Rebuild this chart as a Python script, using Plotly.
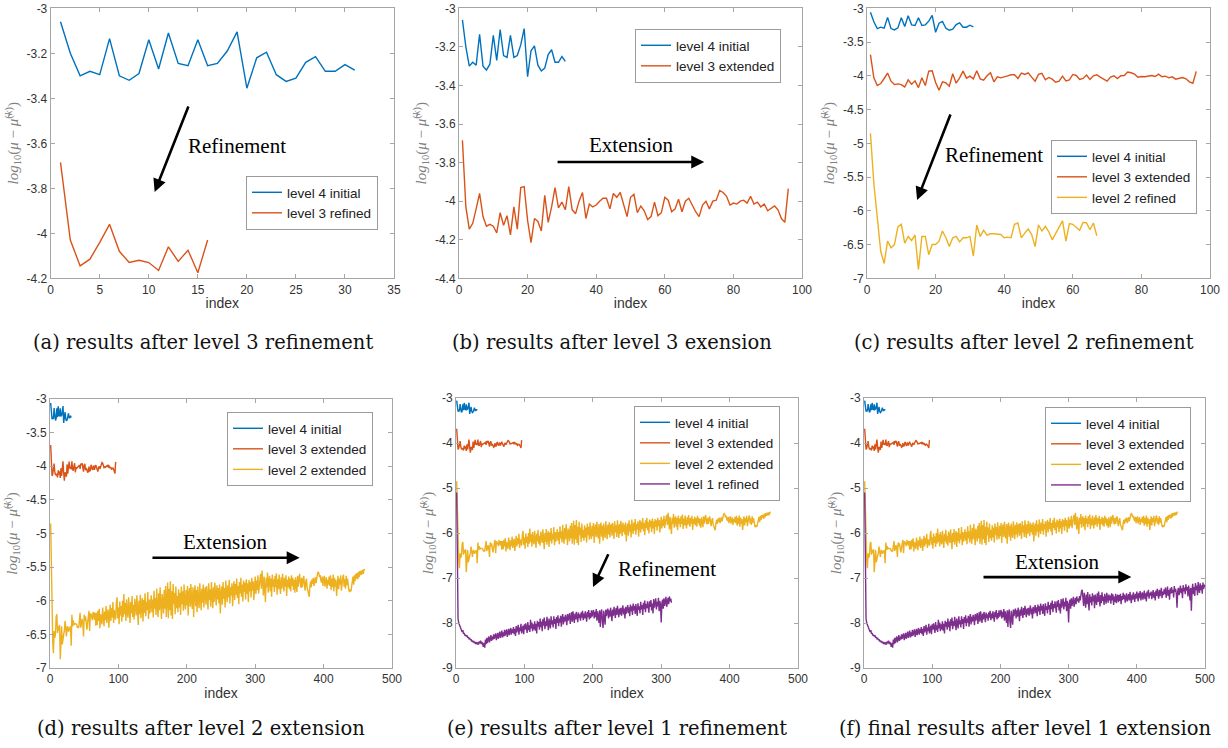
import plotly.graph_objects as go

# ---------------- data ----------------
level4_initial = [-3.06, -3.20, -3.30, -3.28, -3.295, -3.135, -3.30, -3.32, -3.29, -3.14,
                  -3.27, -3.11, -3.245, -3.255, -3.14, -3.255, -3.245, -3.19, -3.105, -3.355,
                  -3.22, -3.195, -3.295, -3.325, -3.31, -3.24, -3.215, -3.28, -3.28, -3.25, -3.275]

level3 = [-3.685, -4.03, -4.145, -4.115, -4.04, -3.96, -4.08, -4.13, -4.12, -4.13,
          -4.165, -4.06, -4.125, -4.075, -4.175, -4.03,
          -4.145, -3.93, -3.925, -4.10, -4.215, -4.09, -4.105, -4.155, -3.97, -4.11,
          -4.03, -3.93, -4.035, -4.005, -4.045, -3.925, -4.045, -4.065, -4.00, -3.955,
          -4.09, -4.015, -4.03, -4.02, -4.00, -3.985, -3.985, -4.04, -3.96, -3.98,
          -3.955, -4.02, -4.08, -3.98, -3.965, -4.06, -4.025, -4.05, -4.095, -4.08,
          -4.005, -4.075, -4.06, -3.98, -3.995, -4.055, -4.04, -3.99, -4.055, -4.0,
          -3.985, -4.02, -4.055, -4.08, -4.02, -4.0, -4.04, -4.00, -3.995, -3.945,
          -3.955, -3.975, -4.02, -4.01, -4.015, -4.00, -3.995, -4.01, -3.975, -4.015,
          -4.005, -4.03, -4.015, -4.05, -4.035, -4.025, -4.045, -4.09, -4.11, -3.935]

level2 = [-4.85, -5.6, -6.1, -6.6, -6.78, -6.45, -6.55, -6.5, -6.24, -6.2,
          -6.48, -6.38, -6.44, -6.36, -6.87, -6.38, -6.38, -6.65, -6.5, -6.5,
          -6.45, -6.3, -6.4, -6.53, -6.4, -6.38, -6.46, -6.4, -6.4, -6.38,
          -6.67, -6.21, -6.38, -6.29, -6.36, -6.34, -6.34, -6.34, -6.35, -6.4,
          -6.39, -6.4, -6.2, -6.18, -6.4, -6.33, -6.27, -6.35, -6.53, -6.21,
          -6.3, -6.23, -6.31, -6.43, -6.33, -6.25, -6.15, -6.45, -6.19, -6.2,
          -6.24, -6.29, -6.17, -6.18, -6.28, -6.18, -6.37,
          -6.18, -6.36, -6.15, -6.30, -6.12, -6.41, -6.20, -6.27, -6.35, -6.10, -6.24, -6.38, -6.16, -6.29, -6.08, -6.33, -6.19, -6.13, -6.40, -6.21,
          -6.06, -6.30, -6.11, -6.25, -6.02, -6.33, -6.14, -6.21, -6.28, -6.04, -5.95, -6.26, -6.10, -6.35, -6.01, -6.22, -6.08, -6.31, -6.00, -6.24,
          -5.90, -6.20, -6.03, -6.30, -5.98, -6.17, -6.25, -5.95, -6.12, -6.33, -6.02, -6.19, -5.93, -6.24, -6.06, -6.28, -5.97, -6.15, -6.22, -5.92,
          -6.15, -6.36, -6.00, -6.20, -5.91, -6.26, -6.05, -5.96, -6.31, -5.99, -6.18, -5.89, -6.23, -6.02, -6.14, -5.87, -6.27, -5.98, -6.19, -6.01,
          -5.92, -6.17, -5.98, -6.25, -5.85, -6.12, -5.96, -6.21, -5.82, -6.09, -6.24, -5.89, -6.14, -5.80, -6.08, -6.27, -5.90, -5.99, -6.19, -5.84,
          -6.12, -5.78, -6.24, -5.90, -5.73, -6.26, -5.82, -6.14, -5.71, -6.22, -5.86, -6.27, -5.75, -6.05, -5.88, -6.20, -5.79, -6.11, -5.93, -6.17,
          -5.83, -6.10, -5.88, -6.21, -5.79, -6.05, -5.86, -6.15, -5.76, -6.02, -6.13, -5.84, -6.07, -5.78, -6.22, -5.90, -5.81, -6.09, -5.75, -6.01,
          -6.12, -5.80, -6.24, -5.88, -5.77, -6.08, -5.84, -6.17, -5.79, -6.00, -6.11, -5.74, -5.92, -6.14, -5.82, -6.03, -5.76, -6.10, -5.87, -5.80,
          -6.06, -5.78, -5.95, -6.13, -5.74, -5.99, -5.83, -6.09, -5.72, -5.94, -6.11, -5.80, -6.02, -5.73, -5.90, -6.07, -5.77, -5.98, -5.81, -6.04,
          -5.76, -6.19, -5.90, -5.79, -6.06, -5.72, -5.97, -5.81, -6.10, -5.70, -5.88, -6.02, -5.77, -5.95, -5.69, -6.04, -5.80, -5.92, -5.74, -6.08,
          -5.82, -5.71, -5.99, -5.75, -5.91, -5.67, -5.96, -5.78, -6.05, -5.72, -5.89, -5.66, -5.94, -5.76, -6.01, -5.70, -5.87, -5.73, -5.98, -5.68,
          -5.90, -5.74, -6.02, -5.69, -5.86, -5.72, -5.95, -5.66, -5.85, -5.71, -5.99, -5.74, -5.64, -5.90, -5.70, -5.84, -5.62, -5.89, -5.72, -5.67,
          -5.60, -5.82, -5.55, -5.71, -5.92, -5.64, -5.85, -6.02, -5.66, -5.80, -5.58, -5.88, -5.70, -5.63, -5.86, -5.67, -5.94, -5.61, -5.79, -5.68,
          -5.87, -5.63, -5.80, -5.59, -5.91, -5.68, -5.83, -5.61, -5.78, -5.90, -5.65, -5.82, -5.60, -5.74, -5.86, -5.66, -5.79, -5.62, -5.93, -5.69,
          -5.80, -5.64, -5.83, -5.67, -5.86, -5.62, -5.78, -5.66, -5.84, -5.69, -5.88, -5.65, -5.76, -5.87, -5.63, -5.79, -5.68, -5.60, -5.74, -5.81,
          -5.66, -5.80, -5.70, -5.63, -5.76, -5.85, -5.72, -5.67, -5.81, -5.87, -5.90, -5.94, -5.78, -5.71, -5.80, -5.68, -5.75, -5.66, -5.78, -5.69,
          -5.65, -5.74, -5.61, -5.60, -5.57, -5.59, -5.65, -5.62, -5.70, -5.73, -5.64, -5.78, -5.68, -5.63, -5.79, -5.70, -5.65, -5.82, -5.69, -5.76,
          -5.64, -5.78, -5.62, -5.84, -5.67, -5.80, -5.61, -5.86, -5.66, -5.79, -5.69, -5.93, -5.72, -5.63, -5.83, -5.67, -5.76, -5.62, -5.85, -5.70,
          -5.66, -5.61, -5.79, -5.68, -5.82, -5.63, -5.77, -5.67, -5.80, -5.85, -5.87, -5.83, -5.86, -5.80, -5.70, -5.64, -5.76, -5.62, -5.71, -5.60,
          -5.67, -5.59, -5.68, -5.57, -5.65, -5.56, -5.62, -5.55, -5.61, -5.54, -5.60, -5.53, -5.55]

level1 = [-5.10, -7.70, -7.90, -8.00, -8.05, -8.10, -8.14, -8.18, -8.20, -8.16, -8.24, -8.22, -8.28, -8.26, -8.30, -8.27, -8.33, -8.31, -8.35, -8.34,
          -8.38, -8.36, -8.41, -8.39, -8.43, -8.40, -8.45, -8.42, -8.47, -8.44, -8.46, -8.43, -8.48, -8.41, -8.45, -8.39, -8.47, -8.42, -8.50, -8.53,
          -8.44, -8.55, -8.37, -8.47, -8.33, -8.45, -8.36, -8.30, -8.43, -8.32, -8.27, -8.40, -8.30, -8.37, -8.25, -8.35, -8.29, -8.23, -8.38, -8.28,
          -8.22, -8.35, -8.25, -8.19, -8.33, -8.24, -8.17, -8.32, -8.21, -8.30, -8.15, -8.28, -8.20, -8.14, -8.31, -8.19, -8.13, -8.27, -8.18, -8.11,
          -8.26, -8.14, -8.22, -8.09, -8.25, -8.13, -8.29, -8.07, -8.21, -8.12, -8.04, -8.26, -8.10, -8.18, -8.02, -8.23, -8.11, -8.06, -8.25, -8.03,
          -8.15, -8.01, -8.11, -8.22, -7.98, -8.16, -8.05, -8.20, -7.93, -8.12, -7.99, -8.18, -8.03, -8.14, -7.96, -8.17, -8.02, -8.23, -7.95, -8.08,
          -7.98, -8.15, -7.90, -8.09, -7.97, -8.18, -7.92, -8.06, -7.88, -8.14, -7.96, -8.07, -7.86, -8.03, -8.16, -7.90, -8.00, -8.12, -7.85, -8.03,
          -7.94, -8.10, -7.85, -8.02, -7.91, -8.13, -7.87, -8.00, -7.83, -8.07, -7.90, -7.99, -7.84, -8.08, -7.89, -7.80, -8.03, -7.86, -7.97, -7.82,
          -7.90, -8.05, -7.80, -7.95, -7.86, -7.78, -8.02, -7.84, -7.76, -7.97, -7.74, -7.88, -8.00, -7.79, -7.92, -7.75, -7.86, -7.98, -7.77, -7.89,
          -7.81, -7.95, -7.76, -7.88, -7.73, -7.94, -7.79, -7.90, -7.74, -7.85, -7.97, -7.75, -7.87, -7.71, -7.92, -7.78, -7.89, -7.72, -7.86, -7.77,
          -7.71, -7.90, -7.75, -7.87, -7.69, -7.95, -7.74, -7.86, -8.00, -7.72, -8.09, -7.78, -7.70, -7.98, -8.11, -7.73, -7.88, -8.04, -7.70, -7.85,
          -7.74, -7.68, -7.90, -7.72, -7.86, -7.66, -7.80, -7.96, -7.70, -7.84, -7.64, -7.79, -7.89, -7.67, -7.82, -7.62, -7.76, -7.87, -7.68, -7.81,
          -7.66, -7.84, -7.70, -7.61, -7.81, -7.68, -7.90, -7.64, -7.79, -7.67, -7.60, -7.78, -7.65, -7.85, -7.59, -7.74, -7.63, -7.82, -7.57, -7.72,
          -7.62, -7.80, -7.58, -7.73, -7.84, -7.56, -7.71, -7.63, -7.79, -7.53, -7.70, -7.60, -7.82, -7.55, -7.69, -7.50, -7.76, -7.58, -7.67, -7.52,
          -7.66, -7.77, -7.52, -7.64, -7.49, -7.72, -7.57, -7.79, -7.47, -7.66, -7.56, -7.45, -7.70, -7.53, -7.63, -7.44, -7.74, -7.51, -7.60, -7.99,
          -7.56, -7.48, -7.68, -7.45, -7.62, -7.53, -7.42, -7.64, -7.49, -7.44, -7.58, -7.41, -7.52, -7.46, -7.55, -7.40, -7.50, -7.36, -7.29, -7.26,
          -7.42, -7.62, -7.33, -7.54, -7.66, -7.37, -7.58, -7.31, -7.50, -7.72, -7.36, -7.55, -7.42, -7.61, -7.34, -7.52, -7.39, -7.67, -7.37, -7.49,
          -7.60, -7.34, -7.53, -7.30, -7.48, -7.63, -7.38, -7.56, -7.32, -7.51, -7.41, -7.60, -7.35, -7.47, -7.57, -7.33, -7.46, -7.55, -7.37, -7.50,
          -7.39, -7.57, -7.34, -7.50, -7.36, -7.60, -7.41, -7.53, -7.35, -7.56, -7.44, -7.37, -7.54, -7.38, -7.51, -7.35, -7.58, -7.40, -7.49, -7.33,
          -7.47, -7.37, -7.55, -7.40, -7.34, -7.52, -7.43, -7.36, -7.50, -7.31, -7.45, -7.56, -7.37, -7.48, -7.32, -7.44, -7.53, -7.35, -7.46, -7.30,
          -7.42, -7.52, -7.33, -7.45, -7.29, -7.50, -7.38, -7.32, -7.48, -7.35, -7.28, -7.47, -7.34, -7.52, -7.30, -7.41, -7.26, -7.46, -7.33, -7.39,
          -7.30, -7.47, -7.35, -7.27, -7.44, -7.32, -7.50, -7.28, -7.40, -7.24, -7.36, -7.46, -7.26, -7.41, -7.31, -7.22, -7.45, -7.30, -7.38, -7.25,
          -7.36, -7.21, -7.44, -7.30, -7.19, -7.40, -7.27, -7.48, -7.23, -7.35, -7.20, -7.33, -7.26, -7.43, -7.18, -7.31, -7.24, -7.37, -7.66, -7.29,
          -7.22, -7.38, -7.26, -7.17, -7.34, -7.23, -7.45, -7.16, -7.30, -7.21, -7.36, -7.14, -7.28, -7.20, -7.41, -7.17, -7.29, -7.50, -7.22, -7.73,
          -7.26, -7.13, -7.36, -7.20, -7.40, -7.11, -7.27, -7.17, -7.38, -7.09, -7.24, -7.33, -7.12, -7.27, -7.16, -7.35, -7.10, -7.24, -7.15, -7.20]

level3_refined_count = 16
level2_refined_count = 67
level1_refined_count = 315

captions = ["(a) results after level 3 refinement", "(b) results after level 3 exension",
            "(c) results after level 2 refinement", "(d) results after level 2 extension",
            "(e) results after level 1 refinement", "(f) final results after level 1 extension"]

xticks_a = [0, 5, 10, 15, 20, 25, 30, 35]
xticks_b = [0, 20, 40, 60, 80, 100]
xticks_d = [0, 100, 200, 300, 400, 500]
yticks_a = [-4.2, -4.0, -3.8, -3.6, -3.4, -3.2, -3.0]
yticks_a_text = ["-4.2", "-4", "-3.8", "-3.6", "-3.4", "-3.2", "-3"]
yticks_b = [-4.4, -4.2, -4.0, -3.8, -3.6, -3.4, -3.2, -3.0]
yticks_b_text = ["-4.4", "-4.2", "-4", "-3.8", "-3.6", "-3.4", "-3.2", "-3"]
yticks_c = [-7, -6.5, -6, -5.5, -5, -4.5, -4, -3.5, -3]
yticks_c_text = ["-7", "-6.5", "-6", "-5.5", "-5", "-4.5", "-4", "-3.5", "-3"]
yticks_e = [-9, -8, -7, -6, -5, -4, -3]
yticks_e_text = ["-9", "-8", "-7", "-6", "-5", "-4", "-3"]

# ---------------- styles ----------------
BLUE, ORANGE, YELLOW, PURPLE = "#0072BD", "#D95319", "#EDB120", "#7E2F8E"
LW = 1.4
AXCOL = "#a6a6a6"
TICKFONT = dict(family="Liberation Sans, Arial", size=12, color="#333333")
YTITLE = "<i>log</i><sub>10</sub>(<i>μ</i> − <i>μ̃</i><sup>(<i>k</i>)</sup>)"

W, H = 1228, 748
def px_x(a, b):
    return [a / W, b / W]
def px_y(top, bottom):
    return [1 - bottom / H, 1 - top / H]

panels = [
    dict(dx=px_x(50.7, 394), dy=px_y(8.3, 278.3), xr=[0, 35], xt=xticks_a, yr=[-4.2, -3], yt=yticks_a, ytt=yticks_a_text),
    dict(dx=px_x(459, 802), dy=px_y(8.3, 278.3), xr=[0, 100], xt=xticks_b, yr=[-4.4, -3], yt=yticks_b, ytt=yticks_b_text),
    dict(dx=px_x(867, 1210), dy=px_y(8.3, 278.3), xr=[0, 100], xt=xticks_b, yr=[-7, -3], yt=yticks_c, ytt=yticks_c_text),
    dict(dx=px_x(50, 392), dy=px_y(399, 668), xr=[0, 500], xt=xticks_d, yr=[-7, -3], yt=yticks_c, ytt=yticks_c_text),
    dict(dx=px_x(456, 798), dy=px_y(398, 668), xr=[0, 500], xt=xticks_d, yr=[-9, -3], yt=yticks_e, ytt=yticks_e_text),
    dict(dx=px_x(864, 1205), dy=px_y(398, 668), xr=[0, 500], xt=xticks_d, yr=[-9, -3], yt=yticks_e, ytt=yticks_e_text),
]

fig = go.Figure()

def idx(arr):
    return list(range(1, len(arr) + 1))

def add(panel, y, name, color):
    n = panel + 1
    sfx = "" if n == 1 else str(n)
    fig.add_trace(go.Scatter(x=idx(y), y=y, mode="lines", name=name,
                             line=dict(color=color, width=LW),
                             xaxis="x" + sfx, yaxis="y" + sfx,
                             legend="legend" + sfx, showlegend=True))

l3r = level3[:level3_refined_count]
l2r = level2[:level2_refined_count]
l1r = level1[:level1_refined_count]

add(0, level4_initial, "level 4 initial", BLUE)
add(0, l3r, "level 3 refined", ORANGE)
add(1, level4_initial, "level 4 initial", BLUE)
add(1, level3, "level 3 extended", ORANGE)
add(2, level4_initial, "level 4 initial", BLUE)
add(2, level3, "level 3 extended", ORANGE)
add(2, l2r, "level 2 refined", YELLOW)
add(3, level4_initial, "level 4 initial", BLUE)
add(3, level3, "level 3 extended", ORANGE)
add(3, level2, "level 2 extended", YELLOW)
add(4, level4_initial, "level 4 initial", BLUE)
add(4, level3, "level 3 extended", ORANGE)
add(4, level2, "level 2 extended", YELLOW)
add(4, l1r, "level 1 refined", PURPLE)
add(5, level4_initial, "level 4 initial", BLUE)
add(5, level3, "level 3 extended", ORANGE)
add(5, level2, "level 2 extended", YELLOW)
add(5, level1, "level 1 extended", PURPLE)

layout = dict(width=W, height=H, margin=dict(l=0, r=0, t=0, b=0, autoexpand=False),
              paper_bgcolor="white", plot_bgcolor="white", showlegend=True)

legend_pos = [(378, 176), (781, 29), (1197, 140), (373, 412), (780, 406), (1191, 407)]

for i, p in enumerate(panels):
    n = i + 1
    sfx = "" if n == 1 else str(n)
    layout["xaxis" + sfx] = dict(
        domain=p["dx"], range=p["xr"], anchor="y" + sfx, automargin=False,
        tickvals=p["xt"], ticktext=[str(v) for v in p["xt"]],
        showline=True, linecolor=AXCOL, linewidth=1, mirror="ticks",
        ticks="inside", ticklen=4, tickcolor=AXCOL, showgrid=False, zeroline=False,
        tickfont=TICKFONT,
        title=dict(text="index", font=dict(family="Liberation Sans, Arial", size=14, color="#333333"), standoff=2))
    layout["yaxis" + sfx] = dict(
        domain=p["dy"], range=p["yr"], anchor="x" + sfx, automargin=False,
        tickvals=p["yt"], ticktext=p["ytt"],
        showline=True, linecolor=AXCOL, linewidth=1, mirror="ticks",
        ticks="inside", ticklen=4, tickcolor=AXCOL, showgrid=False, zeroline=False,
        tickfont=TICKFONT,
        title=dict(text=YTITLE, font=dict(family="Liberation Serif, Times New Roman", size=15, color="#808080"), standoff=4))
    lx, ly = legend_pos[i]
    layout["legend" + sfx] = dict(
        x=lx / W, y=1 - ly / H, xanchor="right", yanchor="top",
        xref="paper", yref="paper",
        bgcolor="white", bordercolor="#9a9a9a", borderwidth=1,
        font=dict(family="Liberation Sans, Arial", size=13.5, color="#222222"),
        tracegroupgap=0, itemwidth=30)

fig.update_layout(**layout)

ann_font = dict(family="Liberation Serif, Times New Roman", size=21, color="black")
arrows = [
    # (xref, yref, head_x, head_y, tail_x, tail_y, text, text_x, text_y)
    ("x", "y", 10.6, -3.816, 14.1, -3.43, "Refinement", 19.0, -3.61),
    ("x2", "y2", 71.5, -3.797, 28.3, -3.797, "Extension", 50.1, -3.71),
    ("x3", "y3", 14.6, -5.84, 24.5, -4.55, "Refinement", 37.0, -5.17),
    ("x4", "y4", 365, -5.36, 147.6, -5.36, "Extension", 256, -5.13),
    ("x5", "y5", 200.3, -7.2, 223.7, -6.44, "Refinement", 308.5, -6.8),
    ("x6", "y6", 392, -6.98, 173, -6.98, "Extension", 283, -6.64),
]
for xr, yr, hx, hy, tx, ty, txt, txx, txy in arrows:
    fig.add_annotation(x=hx, y=hy, ax=tx, ay=ty, xref=xr, yref=yr, axref=xr, ayref=yr,
                       text="", showarrow=True, arrowhead=2, arrowsize=1, arrowwidth=2.6,
                       arrowcolor="black")
    fig.add_annotation(x=txx, y=txy, xref=xr, yref=yr, text=txt, showarrow=False, font=ann_font)

cap_pos = [(203, 343), (612, 343), (1024, 343), (201, 728), (617, 728), (1025, 728)]
for (cx, cy), txt in zip(cap_pos, captions):
    fig.add_annotation(x=cx / W, y=1 - cy / H, xref="paper", yref="paper", text=txt,
                       showarrow=False, xanchor="center", yanchor="middle",
                       font=dict(family="DejaVu Serif", size=19.5, color="#111111"))

fig.write_html("out.html", config={"displayModeBar": False},
               post_script="document.body.style.margin='0';document.body.style.overflow='hidden';")
